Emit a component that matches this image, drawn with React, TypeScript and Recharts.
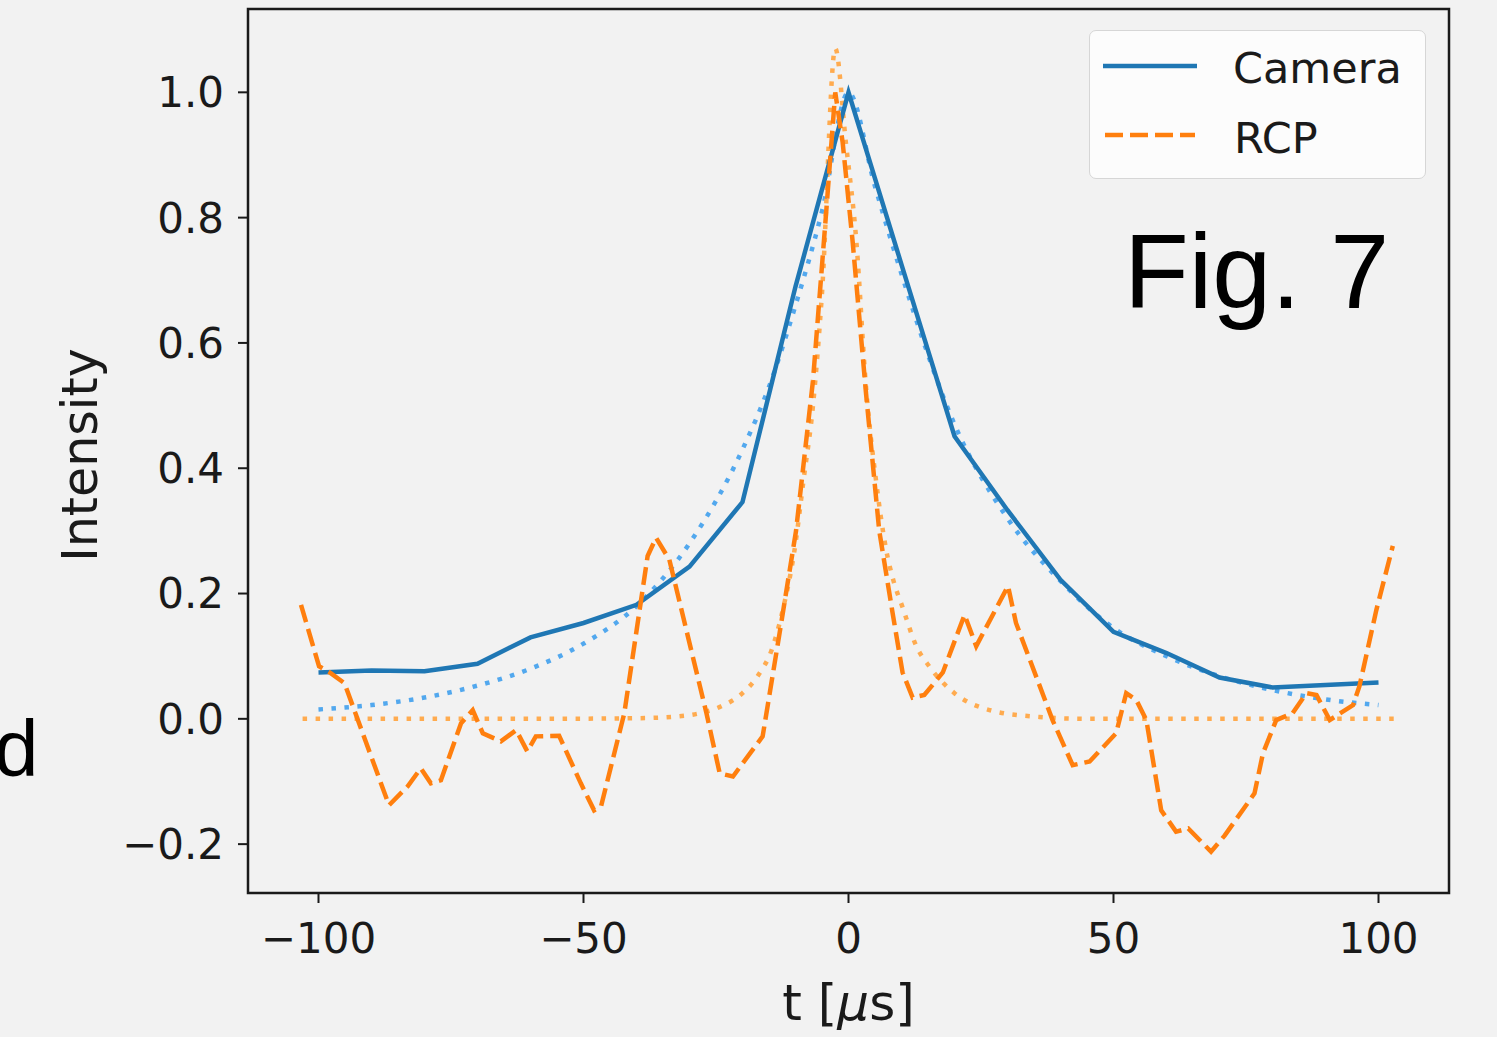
import { LineChart, Line, XAxis, YAxis, Legend, ReferenceArea, Label } from "recharts";

// tick values
const xTicks = [-100, -50, 0, 50, 100];
const yTicks = [-0.2, 0, 0.2, 0.4, 0.6, 0.8, 1.0];

// Camera (solid)
const cameraT = [-100, -90, -80, -70, -60, -50, -40, -30, -20, -10, 0, 10, 20, 30, 40, 50, 60, 70, 80, 90, 100];
const cameraI = [0.074, 0.077, 0.076, 0.088, 0.13, 0.153, 0.182, 0.243, 0.346, 0.69, 1.0, 0.725, 0.451, 0.333, 0.222, 0.139, 0.105, 0.066, 0.05, 0.054, 0.058];

// Camera fit (dotted)
const cameraFitT = [-100, -90, -80, -70, -60, -50, -40, -30, -20, -15, -10, -5, 0, 5, 10, 20, 30, 40, 50, 60, 70, 80, 90, 100];
const cameraFitI = [0.015, 0.022, 0.034, 0.053, 0.08, 0.12, 0.18, 0.28, 0.43, 0.53, 0.66, 0.81, 1.0, 0.85, 0.71, 0.47, 0.32, 0.22, 0.145, 0.1, 0.068, 0.046, 0.031, 0.022];

// RCP (dashed)
const rcpT = [-103.3, -99.9, -97.7, -95.1, -86.7, -83.2, -80.7, -78.8, -76.9, -73.1, -70.9, -69, -65.6, -62.7, -60.6, -59, -54.6, -50.5, -48, -46.7, -42.3, -37.9, -36.3, -33.8, -26.8, -24.3, -21.8, -16.2, -13, -9.9, -6.7, -4.2, -2.5, -1.1, 0.8, 3.3, 5.8, 8.3, 10.2, 12.1, 14.3, 17.8, 21.9, 24.1, 30.1, 31.6, 38.5, 42.3, 45.5, 50.5, 52.4, 54.3, 56.2, 59, 61.8, 64.1, 68.4, 71, 76.6, 78.2, 80.7, 83.8, 86.4, 88.3, 90.8, 95.2, 96.4, 99.6, 102.7];
const rcpI = [0.182, 0.084, 0.073, 0.057, -0.138, -0.108, -0.079, -0.103, -0.098, -0.007, 0.014, -0.023, -0.036, -0.018, -0.052, -0.028, -0.027, -0.103, -0.146, -0.14, 0.009, 0.26, 0.289, 0.254, 0.009, -0.087, -0.092, -0.028, 0.137, 0.3, 0.54, 0.81, 1.0, 0.92, 0.76, 0.52, 0.3, 0.17, 0.074, 0.034, 0.038, 0.074, 0.166, 0.116, 0.212, 0.153, -0.002, -0.074, -0.068, -0.023, 0.041, 0.03, -0.002, -0.146, -0.18, -0.175, -0.212, -0.186, -0.119, -0.055, -0.002, 0.009, 0.041, 0.038, -0.002, 0.022, 0.052, 0.174, 0.276];

// RCP fit (dotted)
const rcpFitT = [-103, -60, -40, -32, -28, -24, -20, -17, -14.5, -12.5, -10, -8.5, -6.7, -5, -2.5, -0.5, 1.5, 3.3, 5.2, 7.1, 8.5, 10.2, 12.8, 15.3, 20, 26.6, 36, 45, 103];
const rcpFitI = [0, 0, 0.001, 0.004, 0.009, 0.02, 0.041, 0.07, 0.11, 0.17, 0.28, 0.38, 0.5, 0.68, 1.07, 0.92, 0.76, 0.53, 0.38, 0.27, 0.22, 0.178, 0.116, 0.083, 0.041, 0.014, 0.003, 0, 0];

const toPoints = (ts: number[], vs: number[]) => ts.map((t, i) => ({ t, v: vs[i] }));
const camera = toPoints(cameraT, cameraI);
const cameraFit = toPoints(cameraFitT, cameraFitI);
const rcp = toPoints(rcpT, rcpI);
const rcpFit = toPoints(rcpFitT, rcpFitI);

const X_DOMAIN: [number, number] = [-113.3, 113.3];
const Y_DOMAIN: [number, number] = [-0.278, 1.133];

const BLUE = "#1f77b4";
const ORANGE = "#ff7f0e";
const BLUE_FIT = "#52a8ee";
const ORANGE_FIT = "#ffab4f";
const TEXT = "#1a1a1a";
const FONT = "'DejaVu Sans', sans-serif";

const minus = (s: string, v: number) => (v < 0 ? "\u2212" + s : s);
const fmtX = (v: number) => minus(String(Math.abs(v)), v);
const fmtY = (v: number) => minus(Math.abs(v).toFixed(1), v);

const XLabel = (props: any) => {
  const vb = props.viewBox || { x: 248, y: 893, width: 1201 };
  return (
    <text x={vb.x + vb.width / 2} y={vb.y + 127} textAnchor="middle" fontSize={50} fontFamily={FONT} fill={TEXT}>
      <tspan>t [</tspan>
      <tspan fontStyle="italic">μ</tspan>
      <tspan>s]</tspan>
    </text>
  );
};

const YLabel = (props: any) => {
  const vb = props.viewBox || { x: 0, y: 9, height: 884 };
  const cy = vb.y + vb.height / 2 + 4;
  return (
    <text x={97} y={cy} transform={`rotate(-90, 97, ${cy})`} textAnchor="middle" fontSize={49} fontFamily={FONT} fill={TEXT}>
      Intensity
    </text>
  );
};

const renderLegend = () => (
  <div style={{ width: 337, height: 149, boxSizing: "border-box", border: "1.5px solid #d6d6d6", borderRadius: 7, background: "#fcfcfc" }}>
    <svg width={334} height={146} style={{ display: "block" }}>
      <line x1={13} x2={107} y1={35} y2={35} stroke={BLUE} strokeWidth={4.5} />
      <text x={143} y={52} fontSize={43} fontFamily={FONT} fill={TEXT}>Camera</text>
      <line x1={15} x2={105} y1={104} y2={104} stroke={ORANGE} strokeWidth={4.5} strokeDasharray="18 7" />
      <text x={144} y={122} fontSize={43} fontFamily={FONT} fill={TEXT}>RCP</text>
    </svg>
  </div>
);

export default function App() {
  return (
    <div style={{ position: "fixed", left: 0, top: 0, width: 1497, height: 1037, background: "#f2f2f2", overflow: "hidden" }}>
      <LineChart width={1497} height={1037} margin={{ top: 9, right: 48, bottom: 0, left: 0 }}>
        <XAxis
          dataKey="t"
          type="number"
          domain={X_DOMAIN}
          ticks={xTicks}
          tickFormatter={fmtX}
          allowDataOverflow
          height={144}
          axisLine={false}
          tickSize={10}
          tickMargin={20}
          tickLine={{ stroke: TEXT, strokeWidth: 2 }}
          tick={{ fontSize: 42, fontFamily: FONT, fill: TEXT }}
        >
          <Label content={XLabel} />
        </XAxis>
        <YAxis
          type="number"
          domain={Y_DOMAIN}
          ticks={yTicks}
          tickFormatter={fmtY}
          allowDataOverflow
          width={248}
          axisLine={false}
          tickSize={10}
          tickMargin={14}
          tickLine={{ stroke: TEXT, strokeWidth: 2 }}
          tick={{ fontSize: 42, fontFamily: FONT, fill: TEXT }}
        >
          <Label content={YLabel} />
        </YAxis>
        <ReferenceArea
          x1={X_DOMAIN[0]}
          x2={X_DOMAIN[1]}
          y1={Y_DOMAIN[0]}
          y2={Y_DOMAIN[1]}
          fill="none"
          stroke={TEXT}
          strokeWidth={2.5}
          ifOverflow="visible"
        />
        <Line data={cameraFit} dataKey="v" type="monotone" stroke={BLUE_FIT} strokeWidth={4.5} strokeDasharray="4.5 8.5" dot={false} isAnimationActive={false} legendType="none" />
        <Line data={rcpFit} dataKey="v" type="monotone" stroke={ORANGE_FIT} strokeWidth={4.5} strokeDasharray="4.5 8.5" dot={false} isAnimationActive={false} legendType="none" />
        <Line data={camera} dataKey="v" name="Camera" type="linear" stroke={BLUE} strokeWidth={4.5} dot={false} isAnimationActive={false} />
        <Line data={rcp} dataKey="v" name="RCP" type="linear" stroke={ORANGE} strokeWidth={4.5} strokeDasharray="18 7" dot={false} isAnimationActive={false} />
        <Legend
          layout="horizontal"
          verticalAlign="middle"
          align="center"
          content={renderLegend}
          wrapperStyle={{ position: "absolute", left: 1089, top: 30, width: 337, height: 149 }}
        />
      </LineChart>
      <svg width={1497} height={1037} style={{ position: "absolute", left: 0, top: 0, pointerEvents: "none" }}>
        <text x={1124} y={308} fontSize={106} fontFamily="'Liberation Sans', Arial, sans-serif" fill="#000">Fig. 7</text>
        <text x={-6} y={776} fontSize={80} fontFamily="'Liberation Sans', Arial, sans-serif" fill="#000">d</text>
      </svg>
    </div>
  );
}
